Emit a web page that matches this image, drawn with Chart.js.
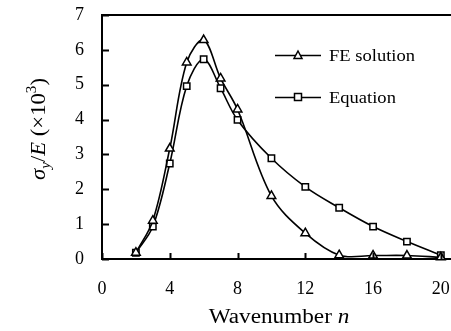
<!DOCTYPE html>
<html>
<head>
<meta charset="utf-8">
<script src="https://cdn.jsdelivr.net/npm/chart.js@4"></script>
<style>
  html, body { margin: 0; padding: 0; background: #fff; overflow: hidden; }
  #wrap { width: 451px; height: 331px; }
</style>
</head>
<body>
<div id="wrap"><canvas id="chart" width="451" height="331"></canvas></div>
<script>
// wavenumbers and peak stress ratio (x10^3)
const waveNumbers = [2, 3, 4, 5, 6, 7, 8, 10, 12, 14, 16, 18, 20];
const feSolution = [0.18, 1.1, 3.17, 5.64, 6.28, 5.18, 4.29, 1.81, 0.74, 0.11, 0.1, 0.1, 0.05];
const equation = [0.18, 0.93, 2.74, 4.96, 5.73, 4.9, 3.99, 2.89, 2.07, 1.47, 0.93, 0.5, 0.11];
const xTicks = [0, 4, 8, 12, 16, 20];
const yTicks = [0, 1, 2, 3, 4, 5, 6, 7];
const seriesNames = ["FE solution", "Equation"];

const serif = "'Liberation Serif', 'Times New Roman', serif";

function toPoints(ys) {
  return waveNumbers.map((n, i) => ({ x: n, y: ys[i] }));
}

// mixed-style text run centred on cx, stretched horizontally by sx
function drawRun(ctx, parts, cx, baseY, sx) {
  let total = 0;
  parts.forEach(p => { ctx.font = p.f + " " + serif; p.w = ctx.measureText(p.t).width; total += p.w; });
  ctx.save();
  ctx.translate(cx, baseY);
  ctx.scale(sx, 1);
  let px = -total / 2;
  parts.forEach(p => {
    ctx.font = p.f + " " + serif;
    ctx.fillText(p.t, px, p.dy || 0);
    px += p.w;
  });
  ctx.restore();
}

// frame, inward tick marks, axis titles and the legend box
const decorations = {
  id: "decorations",
  afterDraw(chart) {
    const { ctx, chartArea, scales } = chart;
    const xs = scales.x, ys = scales.y;
    ctx.save();
    ctx.strokeStyle = "#000";
    ctx.lineWidth = 2;
    ctx.beginPath();
    ctx.moveTo(chartArea.left, chartArea.top);
    ctx.lineTo(chartArea.right, chartArea.top);
    yTicks.forEach(v => {
      const py = Math.round(ys.getPixelForValue(v)) + 0.5;
      ctx.moveTo(chartArea.left, py);
      ctx.lineTo(chartArea.left + 7, py);
    });
    xTicks.forEach(v => {
      const px = Math.round(xs.getPixelForValue(v)) + 0.5;
      ctx.moveTo(px, chartArea.bottom);
      ctx.lineTo(px, chartArea.bottom - 6);
    });
    ctx.stroke();

    ctx.fillStyle = "#000";
    ctx.textBaseline = "alphabetic";

    // x title
    drawRun(ctx, [
      { t: "Wavenumber ", f: "20px" },
      { t: "n", f: "italic 20px" }
    ], 279, 323, 1.16);

    // y title, rotated, with sub/superscripts
    ctx.save();
    ctx.translate(45, 129);
    ctx.rotate(-Math.PI / 2);
    drawRun(ctx, [
      { t: "σ", f: "italic 21px" },
      { t: "y", f: "italic 14px", dy: 5 },
      { t: "/", f: "21px" },
      { t: "E", f: "italic 21px" },
      { t: " (×10", f: "21px" },
      { t: "3", f: "14px", dy: -9 },
      { t: ")", f: "21px" }
    ], 0, 0, 1.08);
    ctx.restore();
    ctx.restore();

    // legend
    ctx.save();
    const rows = [
      { y: 55, style: "triangle" },
      { y: 97, style: "rect" }
    ];
    rows.forEach((r, i) => {
      ctx.strokeStyle = "#000";
      ctx.lineWidth = 1.5;
      ctx.beginPath();
      ctx.moveTo(275, r.y + 0.5);
      ctx.lineTo(321, r.y + 0.5);
      ctx.stroke();
      ctx.fillStyle = "#fff";
      ctx.beginPath();
      if (r.style === "triangle") {
        ctx.moveTo(298, r.y - 4);
        ctx.lineTo(302, r.y + 3.5);
        ctx.lineTo(294, r.y + 3.5);
        ctx.closePath();
      } else {
        ctx.rect(294.5, r.y - 3.5, 7, 7);
      }
      ctx.fill();
      ctx.stroke();
      ctx.fillStyle = "#000";
      ctx.font = "17px " + serif;
      ctx.textBaseline = "middle";
      ctx.save();
      ctx.translate(329, r.y + 1.5);
      ctx.scale(1.09, 1);
      ctx.fillText(seriesNames[i], 0, 0);
      ctx.restore();
    });
    ctx.restore();
  }
};

const lineStyle = {
  borderColor: "#000",
  borderWidth: 1.6,
  backgroundColor: "#fff",
  pointBorderColor: "#000",
  pointBackgroundColor: "#fff",
  pointBorderWidth: 1.5,
  tension: 0.35,
  fill: false,
  clip: false
};

new Chart(document.getElementById("chart"), {
  type: "line",
  data: {
    datasets: [
      Object.assign({}, lineStyle, {
        label: seriesNames[0],
        data: toPoints(feSolution),
        pointStyle: "triangle",
        pointRadius: 5
      }),
      Object.assign({}, lineStyle, {
        label: seriesNames[1],
        data: toPoints(equation),
        pointStyle: "rect",
        pointRadius: 4.5
      })
    ]
  },
  options: {
    responsive: false,
    animation: false,
    layout: { autoPadding: false, padding: { left: 0, top: 15, right: 0, bottom: 0 } },
    plugins: { legend: { display: false }, tooltip: { enabled: false } },
    scales: {
      x: {
        type: "linear",
        min: 0,
        max: 20.6,
        afterBuildTicks: s => { s.ticks = xTicks.map(v => ({ value: v })); },
        afterFit: s => { s.height = 72; s.paddingLeft = 0; s.paddingRight = 0; },
        grid: { display: true, drawOnChartArea: false, drawTicks: false },
        border: { display: true, color: "#000", width: 2 },
        ticks: {
          color: "#000",
          font: { family: serif, size: 18 },
          padding: 19,
          maxRotation: 0
        }
      },
      y: {
        min: 0,
        max: 7,
        afterBuildTicks: s => { s.ticks = yTicks.map(v => ({ value: v })); },
        afterFit: s => { s.width = 102; s.paddingTop = 0; s.paddingBottom = 0; },
        grid: { display: true, drawOnChartArea: false, drawTicks: false },
        border: { display: true, color: "#000", width: 2 },
        ticks: {
          color: "#000",
          font: { family: serif, size: 18 },
          padding: 18
        }
      }
    }
  },
  plugins: [decorations]
});
</script>
</body>
</html>
